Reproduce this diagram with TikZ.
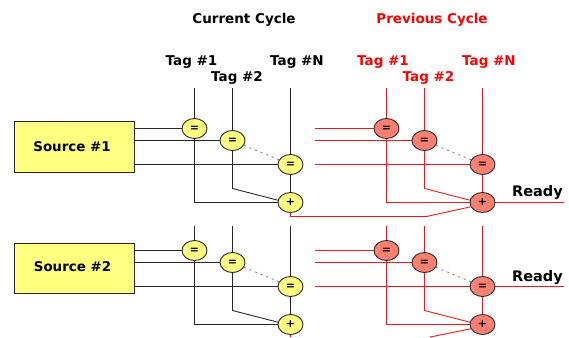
\documentclass[tikz,border=0pt]{standalone}
\usepackage{fontspec}
\setmainfont{DejaVu Sans}
\usetikzlibrary{shapes.geometric}
\definecolor{yel}{HTML}{FFFF80}
\definecolor{sal}{HTML}{FF8070}
\definecolor{dk}{HTML}{282828}
\definecolor{rd}{HTML}{F01818}
\tikzset{
  cmp/.style={ellipse,draw=dk,line width=0.9pt,minimum width=25pt,minimum height=20pt,inner sep=0pt,font=\fontsize{11}{11}\selectfont\bfseries},
  src/.style={rectangle,draw=dk,line width=0.9pt,fill=yel,minimum width=120pt,minimum height=51pt,inner sep=0pt,font=\fontsize{13.4}{14}\selectfont\bfseries},
  lbl/.style={inner sep=0pt,font=\fontsize{13.5}{14}\selectfont\bfseries},
  rdy/.style={inner sep=0pt,font=\fontsize{14.5}{15}\selectfont\bfseries},
  wire/.style={line width=0.9pt},
  dots/.style={line width=0.9pt,dash pattern=on 2pt off 4pt,gray}
}
\begin{document}
\begin{tikzpicture}[x=1pt,y=-1pt]
\useasboundingbox (0,0) rectangle (569,337);
% headings
\node[lbl] (hc) at (244,20) {Current Cycle};
\node[lbl,text=red] (hp) at (432,20) {Previous Cycle};
\node[lbl] (t1) at (191.5,62) {Tag \#1};
\node[lbl] (t2) at (237,78) {Tag \#2};
\node[lbl] (tn) at (297,62) {Tag \#N};
\node[lbl,text=red] (pt1) at (383,62) {Tag \#1};
\node[lbl,text=red] (pt2) at (428.5,78) {Tag \#2};
\node[lbl,text=red] (ptn) at (489,62) {Tag \#N};
% sources
\node[src] (s1) at (74.5,147) {\hspace*{-5pt}\raisebox{-4pt}{Source \#1}};
\node[src,minimum height=50pt] (s2) at (74.5,268.5) {\hspace*{-4pt}\raisebox{3.5pt}{Source \#2}};
% blocks
\foreach \bl/\yo/\top in {a/0/88, b/122/226} {
 \foreach \pre/\xo/\col/\fl/\start in {c/0/dk/yel/134.5, p/192/rd/sal/315} {
  \begin{scope}[xshift=\xo pt, yshift=-\yo pt]
   \coordinate (\pre\bl v1) at (194.5,\top-\yo);
   \coordinate (\pre\bl v2) at (232.5,\top-\yo);
   \coordinate (\pre\bl v3) at (290.5,\top-\yo);
   \coordinate (\pre\bl k) at (232.5,188.5);
   \coordinate (\pre\bl j) at (194.5,202.5);
   \coordinate (\pre\bl h1) at (\start-\xo,128.5);
   \coordinate (\pre\bl h2) at (\start-\xo,140.5);
   \coordinate (\pre\bl h3) at (\start-\xo,164.5);
   \draw[wire,\col] (\pre\bl v1) -- (\pre\bl j) -- (281,202.5);
   \draw[wire,\col] (\pre\bl v2) -- (\pre\bl k) -- (281,201);
   \draw[wire,\col] (\pre\bl v3) -- (290.5,202.5);
   \draw[wire,\col] (\pre\bl h1) -- (194.5,128.5);
   \draw[wire,\col] (\pre\bl h2) -- (232.5,140.5);
   \draw[wire,\col] (\pre\bl h3) -- (290.5,164.5);
   \node[cmp,fill=\fl] (\pre\bl e1) at (194.5,128.5) {=};
   \node[cmp,fill=\fl] (\pre\bl e2) at (232.5,140.5) {=};
   \node[cmp,fill=\fl] (\pre\bl e3) at (290.5,164.5) {=};
   \node[cmp,fill=\fl] (\pre\bl p) at (290.5,202.5) {+};
   \draw[dots] (\pre\bl e2) -- (\pre\bl e3);
  \end{scope}
 }
}
% red links
\coordinate (l1) at (290.5,216.5);
\coordinate (l2) at (426.5,216.5);
\draw[wire,rd] (cap.south) -- (l1) -- (l2) -- (pap.200);
\coordinate (l3) at (290.5,337);
\draw[wire,rd] (cbp.south) -- (l3);
\coordinate (l4) at (430,337);
\draw[wire,rd] (l4) -- (pbp.200);
% ready outputs
\coordinate (r1) at (564,202.5);
\coordinate (r2) at (564,286.5);
\draw[wire,rd] (pap) -- (r1);
\draw[wire,rd] (pbe3) -- (r2);
\node[rdy] (ra) at (537.5,193) {Ready};
\node[rdy] (rb) at (537.5,278) {Ready};
\end{tikzpicture}
\end{document}
